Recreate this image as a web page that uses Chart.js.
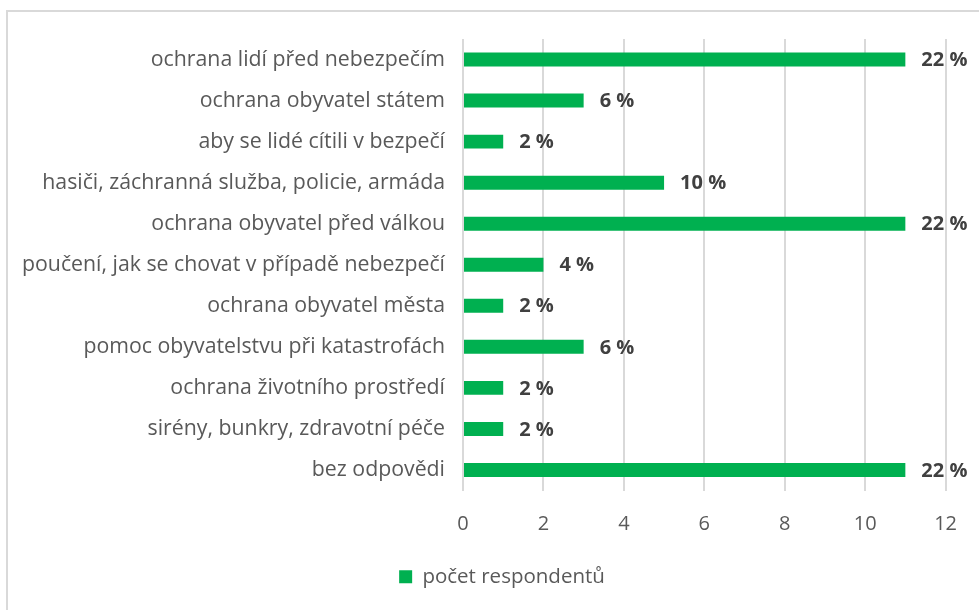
<!DOCTYPE html>
<html>
<head>
<meta charset="utf-8">
<script src="https://cdn.jsdelivr.net/npm/chart.js@4/dist/chart.umd.min.js"></script>
<style>
  body { margin: 0; background: #fff; overflow: hidden; }
  #frame { position: absolute; left: 6px; top: 10px; width: 1200px; height: 800px; border-left: 2px solid #d9d9d9; border-top: 2px solid #d9d9d9; }
  #wrap { position: absolute; left: 0; top: 0; width: 979px; height: 610px; }
</style>
</head>
<body>
<div id="frame"></div>
<div id="wrap"><canvas id="respChart" width="979" height="610"></canvas></div>
<script>
var categories = [
  "ochrana lidí před nebezpečím",
  "ochrana obyvatel státem",
  "aby se lidé cítili v bezpečí",
  "hasiči, záchranná služba, policie, armáda",
  "ochrana obyvatel před válkou",
  "poučení, jak se chovat v případě nebezpečí",
  "ochrana obyvatel města",
  "pomoc obyvatelstvu při katastrofách",
  "ochrana životního prostředí",
  "sirény, bunkry, zdravotní péče",
  "bez odpovědi"
];
var respondents = [11, 3, 1, 5, 11, 2, 1, 3, 1, 1, 11];
var percentLabels = ["22 %", "6 %", "2 %", "10 %", "22 %", "4 %", "2 %", "6 %", "2 %", "2 %", "22 %"];

var fontFamily = "'Open Sans', Lato, sans-serif";

// draws the percentage next to each bar
var barLabels = {
  id: 'barLabels',
  afterDatasetsDraw: function (chart) {
    var ctx = chart.ctx;
    var meta = chart.getDatasetMeta(0);
    ctx.save();
    ctx.font = "bold 20px " + fontFamily;
    ctx.fillStyle = "#404040";
    ctx.textAlign = "left";
    ctx.textBaseline = "middle";
    meta.data.forEach(function (bar, i) {
      ctx.fillText(percentLabels[i], bar.x + 16, bar.y + 1);
    });
    ctx.restore();
  }
};

var myChart = new Chart(document.getElementById("respChart"), {
  type: 'bar',
  data: {
    labels: categories,
    datasets: [{
      label: "počet respondentů",
      data: respondents,
      backgroundColor: "#00b050",
      categoryPercentage: 1,
      barPercentage: 0.34
    }]
  },
  options: {
    indexAxis: 'y',
    responsive: false,
    animation: false,
    devicePixelRatio: 1,
    layout: { padding: { left: 20, right: -5, top: 39, bottom: 13 } },
    scales: {
      x: {
        min: 0, max: 12,
        ticks: { stepSize: 2, color: "#595959", font: { family: fontFamily, size: 20 }, padding: 22 },
        grid: { color: "#d9d9d9", lineWidth: 2, drawTicks: false },
        border: { display: false },
        afterFit: function (s) { s.height = 66; }
      },
      y: {
        ticks: { color: "#595959", font: { family: fontFamily, size: 21.3 }, padding: 18 },
        grid: { display: false, drawTicks: false },
        border: { display: false },
        afterFit: function (s) { s.width = 443; }
      },
      // empty right-hand spacer so the legend centre matches the original
      yRight: {
        type: 'category',
        position: 'right',
        ticks: { display: false },
        grid: { display: false, drawTicks: false },
        border: { display: false },
        afterFit: function (s) { s.width = 32; }
      }
    },
    plugins: {
      legend: {
        position: 'bottom',
        labels: { color: "#595959", font: { family: fontFamily, size: 20.5 }, boxWidth: 13, boxHeight: 13, padding: 10 }
      },
      tooltip: { enabled: false }
    }
  },
  plugins: [barLabels]
});
</script>
</body>
</html>
